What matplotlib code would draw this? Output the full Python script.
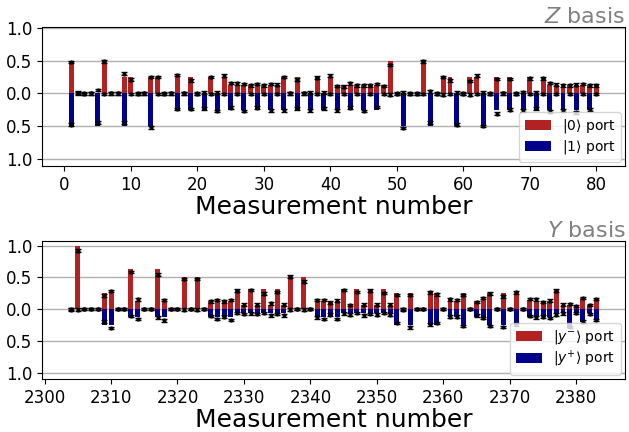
import matplotlib.pyplot as plt
import numpy as np

# Z basis, measurements 1..80
z_x = np.arange(1, 81)
z_red = [0.5, 0, 0, 0, 0, 0.5, 0, 0, 0.25, 0.25,
         0, 0, 0.25, 0.25, 0, 0, 0.25, 0, 0.25, 0,
         0, 0.25, 0, 0.25, 0.125, 0.125, 0.125, 0.125, 0.125, 0.125,
         0.125, 0.125, 0.25, 0, 0.25, 0, 0, 0.25, 0, 0.25,
         0.125, 0.125, 0.125, 0.125, 0.125, 0.125, 0.125, 0.125, 0.5, 0,
         0, 0, 0, 0.5, 0, 0, 0.25, 0.25, 0, 0,
         0.25, 0.25, 0, 0, 0.25, 0, 0.25, 0, 0, 0.25,
         0, 0.25, 0.125, 0.125, 0.125, 0.125, 0.125, 0.125, 0.125, 0.125]
z_blue = [0.5, 0, 0, 0, 0.5, 0, 0, 0, 0.5, 0,
          0, 0, 0.5, 0, 0, 0, 0.25, 0, 0.25, 0,
          0.25, 0, 0.25, 0, 0.25, 0, 0.25, 0, 0.25, 0,
          0.25, 0, 0.25, 0, 0.25, 0, 0.25, 0, 0.25, 0,
          0.25, 0, 0.25, 0, 0.25, 0, 0.25, 0, 0, 0,
          0.5, 0, 0, 0, 0.5, 0, 0, 0, 0.5, 0,
          0, 0, 0.5, 0, 0.25, 0, 0.25, 0, 0.25, 0,
          0.25, 0, 0.25, 0, 0.25, 0, 0.25, 0, 0.25, 0]
z_red_meas = [0.48, 0.01, 0, 0, 0.05, 0.49, 0, 0, 0.30, 0.21,
              0, 0, 0.25, 0.25, 0, 0, 0.28, 0, 0.20, 0,
              0.01, 0.25, 0.01, 0.27, 0.16, 0.15, 0.14, 0.12, 0.14, 0.12,
              0.14, 0.13, 0.25, 0, 0.21, 0, 0.01, 0.24, 0.01, 0.27,
              0.11, 0.10, 0.15, 0.12, 0.12, 0.12, 0.14, 0.11, 0.43, 0,
              0.01, 0, 0, 0.49, 0.03, 0, 0.25, 0.20, 0.01, 0,
              0.19, 0.27, 0.01, 0, 0.22, 0, 0.22, 0, 0.02, 0.23,
              0.01, 0.23, 0.16, 0.13, 0.12, 0.12, 0.13, 0.14, 0.12, 0.12]
z_blue_meas = [0.48, 0, 0.01, 0, 0.45, 0.01, 0, 0, 0.45, 0.01,
               0.01, 0, 0.52, 0.01, 0.01, 0, 0.24, 0, 0.24, 0.01,
               0.23, 0.01, 0.27, 0.01, 0.22, 0.01, 0.27, 0.01, 0.22, 0.01,
               0.26, 0.01, 0.26, 0, 0.23, 0, 0.26, 0.01, 0.23, 0.01,
               0.26, 0.01, 0.22, 0.01, 0.27, 0.01, 0.21, 0.01, 0.02, 0.01,
               0.53, 0.01, 0.01, 0.01, 0.45, 0.01, 0.02, 0.01, 0.48, 0.01,
               0.02, 0.01, 0.50, 0.01, 0.31, 0, 0.25, 0.01, 0.26, 0.01,
               0.23, 0.01, 0.28, 0.01, 0.26, 0.01, 0.29, 0.01, 0.25, 0.01]

# Y basis, measurements 2304..2383
y_x = np.arange(2304, 2384)
y_red = [0, 1.0, 0, 0, 0, 0.25, 0.25, 0, 0, 0.625,
         0.125, 0, 0, 0.625, 0.125, 0, 0, 0.5, 0, 0.5,
         0, 0.125, 0.125, 0.125, 0.125, 0.3125, 0.0625, 0.3125, 0.0625, 0.3125,
         0.0625, 0.3125, 0.0625, 0.52, 0, 0.5, 0, 0.125, 0.125, 0.125,
         0.125, 0.3125, 0.0625, 0.3125, 0.0625, 0.3125, 0.0625, 0.3125, 0.0625, 0.25,
         0, 0.25, 0, 0, 0.28, 0.25, 0, 0.15, 0.125, 0.25,
         0, 0.125, 0.15, 0.25, 0, 0.25, 0, 0.27, 0, 0.14,
         0.125, 0.125, 0.125, 0.3125, 0.0625, 0.0625, 0.05, 0.17, 0.0625, 0.15]
y_blue = [0, 0, 0, 0, 0, 0.25, 0.25, 0, 0, 0.125,
          0.125, 0, 0, 0.125, 0.125, 0, 0, 0, 0, 0,
          0, 0.125, 0.125, 0.125, 0.125, 0.0625, 0.0625, 0.0625, 0.0625, 0.0625,
          0.0625, 0.0625, 0.0625, 0, 0, 0, 0, 0.125, 0.125, 0.125,
          0.125, 0.0625, 0.0625, 0.0625, 0.0625, 0.0625, 0.0625, 0.0625, 0.0625, 0.25,
          0, 0.25, 0, 0, 0.25, 0.25, 0, 0.125, 0.125, 0.25,
          0, 0.125, 0.125, 0.25, 0, 0.25, 0, 0.25, 0, 0.125,
          0.125, 0.125, 0.125, 0.0625, 0.0625, 0.3, 0.0625, 0.2, 0.0625, 0.17]
y_red_meas = [0, 0.92, 0, 0, 0, 0.21, 0.28, 0, 0, 0.58,
              0.15, 0, 0, 0.54, 0.14, 0, 0, 0.47, 0, 0.47,
              0, 0.12, 0.14, 0.12, 0.14, 0.29, 0.07, 0.30, 0.07, 0.24,
              0.09, 0.27, 0.07, 0.51, 0, 0.43, 0, 0.14, 0.14, 0.10,
              0.13, 0.30, 0.06, 0.27, 0.07, 0.29, 0.07, 0.25, 0.07, 0.22,
              0, 0.22, 0, 0, 0.26, 0.23, 0, 0.15, 0.14, 0.22,
              0, 0.11, 0.17, 0.24, 0, 0.20, 0, 0.26, 0, 0.16,
              0.15, 0.11, 0.13, 0.29, 0.07, 0.08, 0.05, 0.17, 0.06, 0.16]
y_blue_meas = [0.01, 0.01, 0, 0, 0, 0.20, 0.30, 0, 0, 0.11,
               0.16, 0, 0, 0.13, 0.18, 0, 0, 0.01, 0, 0.01,
               0, 0.11, 0.16, 0.12, 0.17, 0.06, 0.08, 0.07, 0.08, 0.06,
               0.10, 0.08, 0.10, 0.01, 0, 0.01, 0, 0.13, 0.16, 0.09,
               0.16, 0.07, 0.09, 0.06, 0.10, 0.08, 0.09, 0.06, 0.09, 0.22,
               0.01, 0.29, 0, 0, 0.24, 0.22, 0, 0.12, 0.12, 0.27,
               0, 0.10, 0.14, 0.27, 0, 0.28, 0, 0.24, 0, 0.11,
               0.13, 0.12, 0.14, 0.09, 0.07, 0.28, 0.06, 0.20, 0.08, 0.17]

err = 0.02
red = '#b22222'
blue = '#00008b'


def panel(ax, x, up, down, up_m, down_m, labels, title):
    ax.bar(x, up, width=0.75, color=red, label=labels[0], zorder=2)
    ax.bar(x, -np.array(down), width=0.75, color=blue, label=labels[1], zorder=2)
    ax.errorbar(x, up_m, yerr=err, fmt='o', ms=2, color='k', capsize=2,
                elinewidth=1, capthick=1, zorder=3)
    ax.errorbar(x, -np.array(down_m), yerr=err, fmt='o', ms=2, color='k',
                capsize=2, elinewidth=1, capthick=1, zorder=3)
    ax.set_yticks([-1, -0.5, 0, 0.5, 1])
    ax.set_yticklabels(['1.0', '0.5', '0.0', '0.5', '1.0'])
    ax.grid(axis='y', color='#b0b0b0', lw=1, zorder=0)
    ax.set_axisbelow(True)
    ax.tick_params(labelsize=12)
    ax.set_xlabel('Measurement number', fontsize=18, labelpad=1)
    ax.set_title(title, loc='right', fontsize=16, color='gray', pad=2)
    ax.legend(loc='lower right', fontsize=10, labelspacing=0.2,
              borderpad=0.4, borderaxespad=0.3, handlelength=1.9)


fig = plt.figure(figsize=(6.29, 4.32), dpi=100)
ax1 = fig.add_axes([0.067, 0.616, 0.927, 0.321])
ax2 = fig.add_axes([0.067, 0.123, 0.927, 0.319])

panel(ax1, z_x, z_red, z_blue, z_red_meas, z_blue_meas,
      [r'$|0\rangle$ port', r'$|1\rangle$ port'], r'$Z$ basis')
ax1.set_ylim(-1.11, 1.01)

panel(ax2, y_x, y_red, y_blue, y_red_meas, y_blue_meas,
      [r'$|y^{-}\rangle$ port', r'$|y^{+}\rangle$ port'], r'$Y$ basis')
ax2.set_ylim(-1.1, 1.07)

fig.savefig('out.png', dpi=100)
